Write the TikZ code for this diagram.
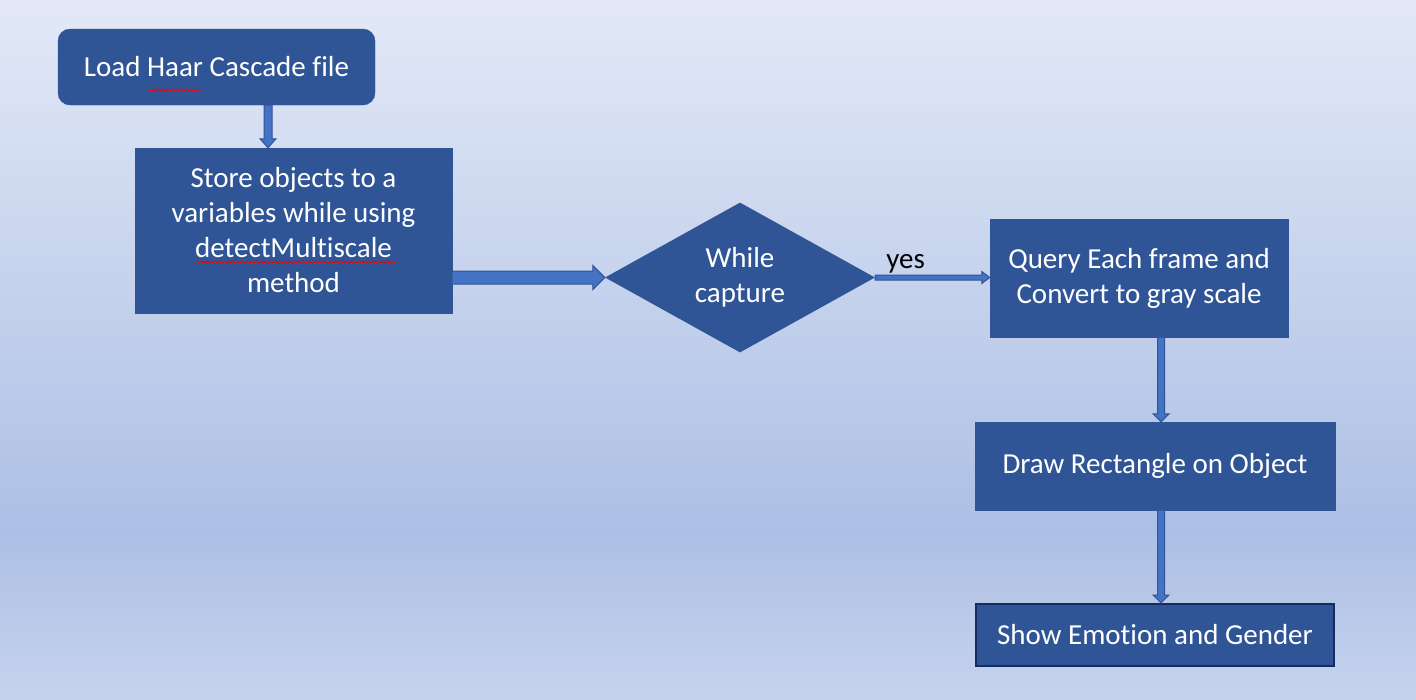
\documentclass[tikz,border=0pt]{standalone}
\usepackage{fontspec}
\setmainfont{Carlito}[Ligatures={NoCommon}]
\usetikzlibrary{shapes.geometric,calc,decorations.pathmorphing}

\definecolor{boxblue}{RGB}{47,85,151}
\definecolor{arrowfill}{RGB}{68,114,196}
\definecolor{navyedge}{RGB}{22,44,96}
\definecolor{bgtop}{RGB}{227,233,246}
\definecolor{bgmid}{RGB}{172,191,229}
\definecolor{bgbot}{RGB}{198,211,237}

\pgfdeclareverticalshading{bgshade}{100bp}{color(0bp)=(bgbot); color(25bp)=(bgbot); color(37bp)=(bgmid); color(75bp)=(bgtop); color(100bp)=(bgtop)}

\tikzset{
  flowbox/.style={rectangle, fill=boxblue, draw=boxblue, text=white, align=center, inner sep=0pt},
  roundbox/.style={flowbox, rounded corners=12pt},
  decision/.style={diamond, fill=boxblue, text=white, align=center, inner sep=0pt},
  blockarrow/.style={fill=arrowfill, draw=boxblue, line width=1pt, line join=miter},
  spellmark/.style={red, line width=0.8pt, decorate, decoration={snake, amplitude=1pt, segment length=3.5pt}}
}

% horizontal and vertical block arrows: from, to, half shaft, half head, head length
\newcommand{\harrow}[5]{%
  \draw[blockarrow] let \p1=(#1), \p2=(#2) in
    ({\x1},{\y1+#3}) -- ({\x2-#5},{\y1+#3}) -- ({\x2-#5},{\y1+#4}) -- ({\x2},{\y1})
    -- ({\x2-#5},{\y1-#4}) -- ({\x2-#5},{\y1-#3}) -- ({\x1},{\y1-#3}) -- cycle;}
\newcommand{\varrow}[5]{%
  \draw[blockarrow] let \p1=(#1), \p2=(#2) in
    ({\x1+#3},{\y1}) -- ({\x1+#3},{\y2+#5}) -- ({\x1+#4},{\y2+#5}) -- ({\x1},{\y2})
    -- ({\x1-#4},{\y2+#5}) -- ({\x1-#3},{\y2+#5}) -- ({\x1-#3},{\y1}) -- cycle;}

\begin{document}
\begin{tikzpicture}[x=1pt,y=-1pt,font=\fontsize{29}{35}\selectfont]
  % background
  \shade[shading=bgshade] (0,0) rectangle (1416,699);
  \useasboundingbox (0,0) rectangle (1416,699);

  % boxes
  \node[roundbox, minimum width=317pt, minimum height=76pt] (load) at (216.5,67) {Load Haar Cascade file};
  \node[flowbox, minimum width=317pt, minimum height=165pt] (store) at (293.5,230.5)
    {Store objects to a\\variables while using\\detectMultiscale\\method};
  \node[decision, minimum width=270pt, minimum height=145pt] (capture) at (740,277.5) {While\\capture};
  \node[flowbox, minimum width=298pt, minimum height=118pt] (query) at (1139,278)
    {Query Each frame and\\Convert to gray scale};
  \node[flowbox, minimum width=360pt, minimum height=88pt] (rect) at (1155,466) {Draw Rectangle on Object};
  \node[flowbox, draw=navyedge, line width=2pt, minimum width=358pt, minimum height=62pt] (show) at (1155,635)
    {Show Emotion and Gender};

  % connectors
  \varrow{$(load.south)+(51.5,0)$}{store.north}{4pt}{8pt}{9pt}
  \harrow{store.east |- capture.west}{capture.west}{6.5pt}{12pt}{12pt}
  \harrow{capture.east}{query.west}{2.5pt}{6pt}{8pt}
  \varrow{$(query.south)+(22,0)$}{rect.north}{3.5pt}{8pt}{8pt}
  \varrow{$(rect.south)+(6,0)$}{show.north}{3.5pt}{8pt}{8pt}

  \node[anchor=south west, inner sep=0pt] (yes) at ($(capture.east)+(11,-4)$) {yes};

  % spell check marks
  \draw[spellmark] (147,90) -- (201,90);
  \draw[spellmark] (196,262) -- (396,262);
\end{tikzpicture}
\end{document}
